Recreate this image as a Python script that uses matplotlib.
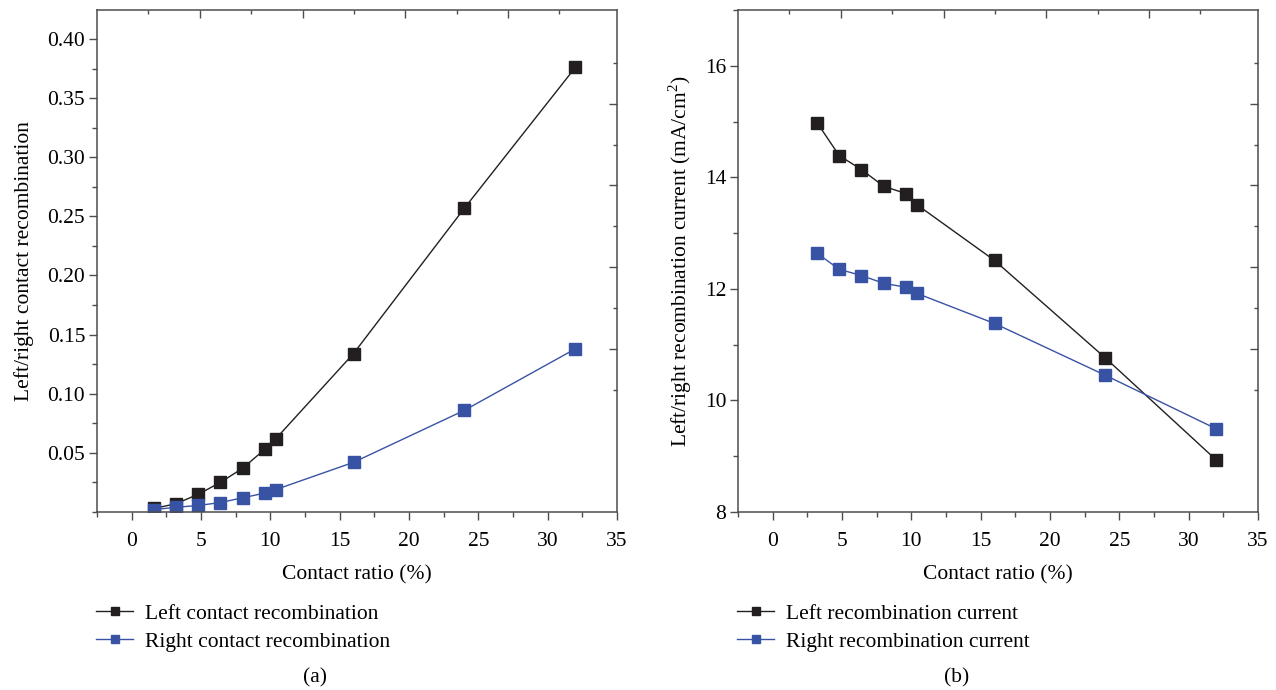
import matplotlib
matplotlib.use('Agg')
import matplotlib.pyplot as plt
from matplotlib.ticker import MultipleLocator

plt.rcParams['font.family'] = ['Liberation Serif', 'DejaVu Serif']
plt.rcParams['mathtext.fontset'] = 'custom'
plt.rcParams['mathtext.rm'] = 'Liberation Serif'

# panel (a)
ratio_a = [1.6, 3.2, 4.8, 6.4, 8.0, 9.6, 10.4, 16, 24, 32]
left_contact = [0.003, 0.007, 0.015, 0.025, 0.037, 0.053, 0.062, 0.134, 0.257, 0.376]
right_contact = [0.002, 0.004, 0.0055, 0.008, 0.012, 0.016, 0.019, 0.042, 0.086, 0.138]

# panel (b)
ratio_b = [3.2, 4.8, 6.4, 8.0, 9.6, 10.4, 16, 24, 32]
left_current = [14.98, 14.39, 14.14, 13.84, 13.71, 13.51, 12.51, 10.76, 8.93]
right_current = [12.64, 12.35, 12.24, 12.10, 12.03, 11.92, 11.38, 10.45, 9.49]

black = '#231f20'
blue = '#3953a4'
spine_c = '#4d4d4d'
fs = 15.5

fig = plt.figure(figsize=(12.76, 6.9), dpi=100)
ax1 = fig.add_axes([97 / 1276, 178 / 690, 520 / 1276, 502 / 690])
ax2 = fig.add_axes([738 / 1276, 178 / 690, 520 / 1276, 502 / 690])


def style(ax):
    for s in ax.spines.values():
        s.set_color(spine_c)
        s.set_linewidth(1.1)
    ax.set_xlim(-2.5, 35)
    ax.xaxis.set_major_locator(MultipleLocator(5))
    ax.xaxis.set_minor_locator(MultipleLocator(2.5))
    ax.tick_params(which='major', direction='out', length=5.5, width=1.0,
                   color=spine_c, labelsize=fs)
    ax.tick_params(which='minor', direction='out', length=3.5, width=1.0, color=spine_c)
    ax.tick_params(axis='x', pad=9)
    ax.tick_params(axis='y', pad=3)
    ax.set_xlabel('Contact ratio (%)', fontsize=fs, labelpad=10)
    # frame ticks on top and right
    top = ax.twiny()
    top.set_xlim(0, 10.12)
    top.set_xticks([2, 4, 6, 8])
    top.set_xticks([1, 3, 5, 7, 9], minor=True)
    top.tick_params(axis='x', which='major', direction='in', length=6, width=1.0,
                    color=spine_c, labeltop=False)
    top.tick_params(axis='x', which='minor', direction='in', length=3, width=1.0,
                    color=spine_c)
    right = ax.twinx()
    right.set_ylim(0, 12.3)
    right.set_yticks([4, 6, 8, 10])
    right.set_yticks([3, 5, 7, 9, 11], minor=True)
    right.tick_params(axis='y', which='major', direction='in', length=6, width=1.0,
                      color=spine_c, labelright=False)
    right.tick_params(axis='y', which='minor', direction='in', length=3, width=1.0,
                      color=spine_c)
    for a in (top, right):
        for s in a.spines.values():
            s.set_visible(False)


style(ax1)
style(ax2)

mk = dict(marker='s', markersize=8.5, linewidth=1.0)
ax1.plot(ratio_a, left_contact, color=black, label='Left contact recombination', **mk)
ax1.plot(ratio_a, right_contact, color=blue, label='Right contact recombination', **mk)
ax1.set_ylim(0, 0.4245)
ax1.yaxis.set_minor_locator(MultipleLocator(0.025))
ax1.set_yticks([0.05, 0.10, 0.15, 0.20, 0.25, 0.30, 0.35, 0.40])
ax1.set_yticklabels(['0.05', '0.10', '0.15', '0.20', '0.25', '0.30', '0.35', '0.40'])
ax1.set_ylabel('Left/right contact recombination', fontsize=fs, labelpad=10)

ax2.plot(ratio_b, left_current, color=black, label='Left recombination current', **mk)
ax2.plot(ratio_b, right_current, color=blue, label='Right recombination current', **mk)
ax2.set_ylim(8, 17)
ax2.yaxis.set_major_locator(MultipleLocator(2))
ax2.yaxis.set_minor_locator(MultipleLocator(1))
ax2.set_ylabel('Left/right recombination current (mA/cm$^2$)', fontsize=fs, labelpad=8)

for ax, tag in ((ax1, '(a)'), (ax2, '(b)')):
    ax.legend(loc='upper left', bbox_to_anchor=(-0.018, -0.166), frameon=False,
              fontsize=fs, handlelength=1.7, handletextpad=0.55, labelspacing=0.35,
              borderaxespad=0, markerscale=0.7)
    ax.text(0.42, -0.33, tag, transform=ax.transAxes, ha='center', va='center',
            fontsize=fs)

fig.savefig('out.png', dpi=100)
